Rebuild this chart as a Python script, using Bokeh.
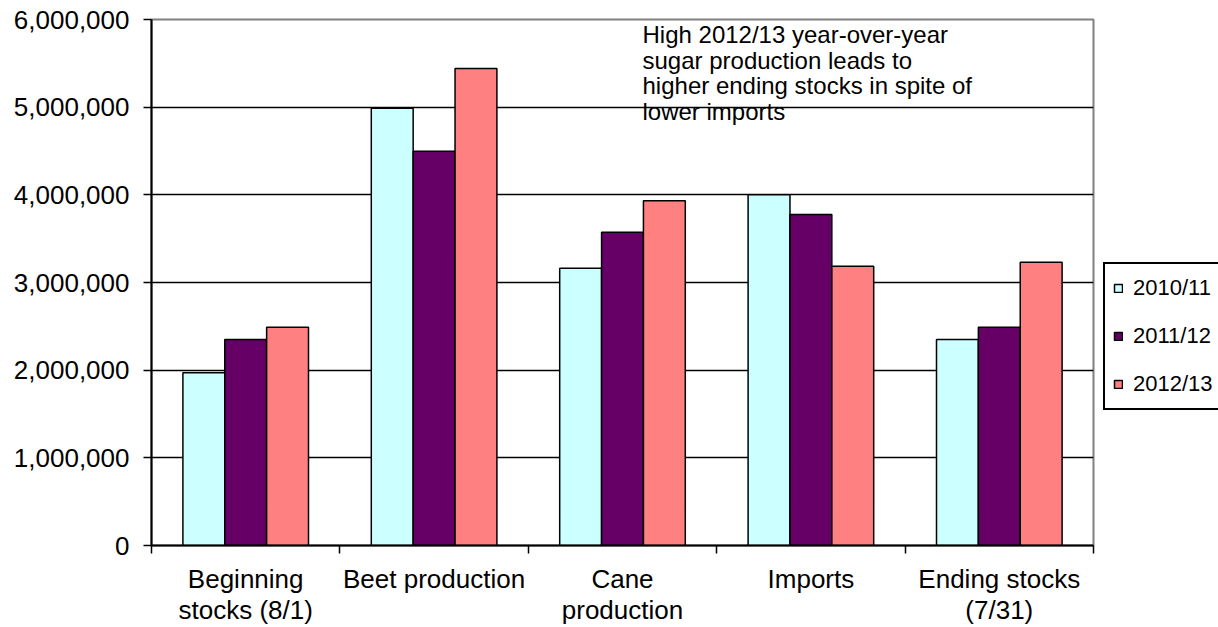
from bokeh.plotting import figure
from bokeh.models import (Range1d, FixedTicker, NumeralTickFormatter, Legend,
                          LegendItem, Label)
from bokeh.embed import file_html
from bokeh.resources import INLINE

# Sugar supply components (short tons, raw value) by marketing year
categories = ["Beginning\nstocks (8/1)", "Beet production", "Cane\nproduction",
              "Imports", "Ending stocks\n(7/31)"]
seasons = ["2010/11", "2011/12", "2012/13"]
v_2010_11 = [1970000, 4988000, 3163000, 4000000, 2350000]
v_2011_12 = [2350000, 4497000, 3574000, 3776000, 2490000]
v_2012_13 = [2490000, 5441000, 3932000, 3186000, 3231000]
y_ticks = [0, 1000000, 2000000, 3000000, 4000000, 5000000, 6000000]
note_lines = ["High 2012/13 year-over-year",
              "sugar production leads to",
              "higher ending stocks in spite of",
              "lower imports"]

colors = ["#CCFFFF", "#660066", "#FF8080"]
FONT = "Liberation Sans"

p = figure(frame_width=942, frame_height=526,
           min_border_left=151, min_border_right=125,
           min_border_top=19, min_border_bottom=82,
           x_range=Range1d(0, len(categories)), y_range=Range1d(0, 6000000),
           toolbar_location=None, output_backend="svg")
p.background_fill_color = "white"
p.border_fill_color = "white"
p.outline_line_color = "#808080"
p.outline_line_width = 2

# clustered bars: each category occupies one unit, bars 2/9 wide (150% gap)
centers = [i + 0.5 for i in range(len(categories))]
bar_w = 2.0 / 9.0
renderers = []
for k, (vals, col) in enumerate(zip([v_2010_11, v_2011_12, v_2012_13], colors)):
    xs = [c + (k - 1) * bar_w for c in centers]
    r = p.vbar(x=xs, top=vals, width=bar_w, bottom=0,
               fill_color=col, line_color="black", line_width=1.5)
    renderers.append(r)

# y axis
p.yaxis.ticker = FixedTicker(ticks=y_ticks)
p.yaxis.formatter = NumeralTickFormatter(format="0,0")
p.yaxis.axis_line_color = "black"
p.yaxis.axis_line_width = 2
p.yaxis.major_tick_line_color = "black"
p.yaxis.major_tick_line_width = 1.5
p.yaxis.major_tick_out = 8
p.yaxis.major_tick_in = 0
p.yaxis.minor_tick_line_color = None
p.yaxis.major_label_text_font = FONT
p.yaxis.major_label_text_font_size = "26px"
p.yaxis.major_label_text_color = "black"
p.yaxis.major_label_standoff = 14

# x axis: labels at category centres, tick marks on category boundaries
p.xaxis.ticker = FixedTicker(ticks=centers,
                             minor_ticks=list(range(len(categories) + 1)))
p.xaxis.major_label_overrides = {c: lab for c, lab in zip(centers, categories)}
p.xaxis.axis_line_color = "black"
p.xaxis.axis_line_width = 2
p.xaxis.major_tick_line_color = None
p.xaxis.minor_tick_line_color = "black"
p.xaxis.minor_tick_line_width = 1.5
p.xaxis.minor_tick_out = 8
p.xaxis.minor_tick_in = 0
p.xaxis.major_label_text_font = FONT
p.xaxis.major_label_text_font_size = "26px"
p.xaxis.major_label_text_color = "black"
p.xaxis.major_label_text_line_height = 1.06
p.xaxis.major_label_standoff = 10

p.xgrid.grid_line_color = None
p.ygrid.ticker = FixedTicker(ticks=y_ticks)
p.ygrid.grid_line_color = "black"
p.ygrid.grid_line_width = 1.5

# legend sits in the right-hand panel, beside the frame
legend = Legend(items=[LegendItem(label=s, renderers=[r])
                       for s, r in zip(seasons, renderers)],
                location=(10, 135))
legend.border_line_color = "black"
legend.border_line_alpha = 1.0
legend.border_line_width = 2
legend.background_fill_color = "white"
legend.background_fill_alpha = 1.0
legend.padding = 8
legend.margin = 0
legend.glyph_width = 10
legend.glyph_height = 10
legend.label_height = 32
legend.spacing = 16
legend.label_standoff = 10
legend.label_text_font = FONT
legend.label_text_font_size = "22px"
legend.label_text_color = "black"
p.add_layout(legend, "right")

for i, line in enumerate(note_lines):
    p.add_layout(Label(x=491, y=511 - i * 25.5, x_units="screen", y_units="screen",
                       text=line, text_font=FONT, text_font_size="24px",
                       text_color="black", text_baseline="alphabetic"))

open("out.html", "w").write(file_html(p, INLINE))
